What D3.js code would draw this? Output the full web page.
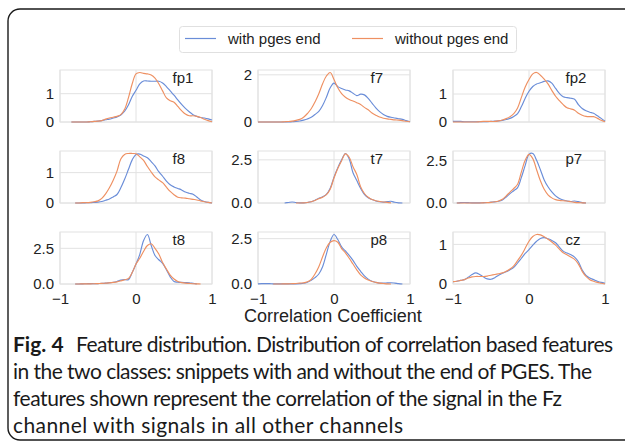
<!DOCTYPE html>
<html>
<head>
<meta charset="utf-8">
<script src="https://cdn.jsdelivr.net/npm/d3@7"></script>
<style>
  html, body { margin: 0; padding: 0; background: #fff; }
  svg { display: block; }
</style>
</head>
<body>
<svg id="chart" width="625" height="442"></svg>
<script>
// ---------------- DATA ----------------
const xGrid = [-1, -0.95, -0.9, -0.85, -0.8, -0.75, -0.7, -0.65, -0.6, -0.55,
  -0.5, -0.45, -0.4, -0.35, -0.3, -0.25, -0.2, -0.15, -0.1, -0.05,
  0, 0.05, 0.1, 0.15, 0.2, 0.25, 0.3, 0.35, 0.4, 0.45,
  0.5, 0.55, 0.6, 0.65, 0.7, 0.75, 0.8, 0.85, 0.9, 0.95, 1];

const channels = ["fp1", "f7", "fp2", "f8", "t7", "p7", "t8", "p8", "cz"];
const seriesNames = ["with pges end", "without pges end"];
const xTicks = [-1, 0, 1];
const yTicks = [[0, 1], [0, 2], [0, 1], [0, 1], [0, 2.5], [0, 2.5], [0, 2.5], [0, 2.5], [0, 1]];
const yTickDecimals = [0, 0, 0, 0, 1, 1, 1, 1, 0];

// density of "with pges end"
const withEnd = {
  fp1: [null, null, null, 0, 0, 0, 0, 0, 0.01, 0.02,
        0.03, 0.05, 0.08, 0.1, 0.14, 0.18, 0.25, 0.38, 0.6, 0.9,
        1.12, 1.35, 1.45, 1.45, 1.44, 1.44, 1.44, 1.38, 1.25, 1.1,
        0.95, 0.78, 0.62, 0.48, 0.36, 0.26, 0.2, 0.16, 0.14, 0.11, 0.07],
  f7:  [0, 0, 0, 0, 0, 0, 0, 0, 0, 0.01,
        0.02, 0.04, 0.08, 0.13, 0.2, 0.32, 0.45, 0.7, 1.05, 1.45,
        1.65, 1.5, 1.42, 1.36, 1.32, 1.22, 1.12, 1.18, 1.15, 1.0,
        0.8, 0.6, 0.44, 0.32, 0.24, 0.2, 0.17, 0.14, 0.11, 0.06, 0.01],
  fp2: [0.02, 0.02, 0.02, 0.01, 0.01, 0.01, 0.01, 0.01, 0.01, 0.01,
        0.02, 0.03, 0.04, 0.06, 0.09, 0.13, 0.2, 0.3, 0.55, 0.85,
        1.1, 1.27, 1.36, 1.4, 1.45, 1.47, 1.39, 1.2, 1.02, 0.9,
        0.87, 0.85, 0.81, 0.62, 0.48, 0.4, 0.35, 0.31, 0.22, 0.13, 0.03],
  f8:  [null, null, null, null, 0, 0, 0, 0.01, 0.01, 0.02,
        0.03, 0.05, 0.09, 0.13, 0.2, 0.28, 0.5, 0.78, 1.1, 1.42,
        1.6, 1.61, 1.55, 1.49, 1.36, 1.22, 1.03, 0.88, 0.72, 0.6,
        0.53, 0.48, 0.43, 0.36, 0.32, 0.29, 0.2, 0.1, 0.05, 0.02, 0],
  t7:  [null, null, null, null, null, null, null, 0, 0.03, 0.06,
        0.03, 0.01, 0.01, 0.03, 0.07, 0.16, 0.27, 0.36, 0.5, 0.85,
        1.5, 2.05, 2.5, 2.87, 2.55, 1.75, 1.3, 0.85, 0.5, 0.3,
        0.2, 0.12, 0.07, 0.05, 0.08, 0.1, 0.04, 0.01, 0, null, null],
  p7:  [null, 0, 0.02, 0.03, 0.02, 0.01, 0.01, 0.01, 0.02, 0.03,
        0.05, 0.07, 0.1, 0.18, 0.35, 0.55, 0.72, 0.9, 1.5, 2.2,
        2.85, 2.9, 2.5, 1.95, 1.35, 0.95, 0.65, 0.42, 0.27, 0.18,
        0.12, 0.09, 0.12, 0.08, 0.02, 0, null, null, null, null, null],
  t8:  [null, null, null, null, 0, 0, 0.01, 0.02, 0.03, 0.02,
        0.03, 0.04, 0.06, 0.09, 0.12, 0.18, 0.27, 0.31, 0.3, 0.8,
        1.4, 2.08, 3.05, 3.47, 2.7, 2.0, 1.7, 1.45, 1.0, 0.5,
        0.18, 0.13, 0.11, 0.1, 0.09, 0.05, 0.01, null, null, null, null],
  p8:  [0.01, 0.02, 0.02, 0.02, 0.01, 0.01, 0.01, 0.01, 0.01, 0.01,
        0.01, 0.02, 0.04, 0.1, 0.2, 0.35, 0.55, 0.95, 1.65, 2.35,
        2.73, 2.45, 2.05, 1.82, 1.58, 1.3, 0.97, 0.7, 0.45, 0.27,
        0.15, 0.09, 0.05, 0.05, 0.06, 0.07, 0.05, 0.02, 0, null, null],
  cz:  [0.06, 0.07, 0.09, 0.11, 0.17, 0.24, 0.28, 0.24, 0.18, 0.13,
        0.12, 0.16, 0.22, 0.27, 0.31, 0.36, 0.42, 0.53, 0.65, 0.77,
        0.87, 0.98, 1.08, 1.15, 1.17, 1.14, 1.1, 1.04, 0.93, 0.83,
        0.78, 0.74, 0.68, 0.56, 0.35, 0.22, 0.15, 0.11, 0.07, 0.04, 0.02]
};

// density of "without pges end"
const withoutEnd = {
  fp1: [null, null, null, 0, 0, 0, 0, 0, 0.01, 0.02,
        0.03, 0.05, 0.1, 0.14, 0.17, 0.2, 0.26, 0.45, 0.85, 1.35,
        1.7, 1.75, 1.72, 1.7, 1.66, 1.55, 1.35, 1.1, 0.85, 0.75,
        0.7, 0.55, 0.4, 0.28, 0.22, 0.22, 0.2, 0.16, 0.1, 0.05, 0.01],
  f7:  [0, 0, 0, 0, 0, 0, 0, 0.01, 0.02, 0.04,
        0.07, 0.11, 0.2, 0.36, 0.56, 0.85, 1.2, 1.62, 1.95, 2.1,
        1.8, 1.45, 1.2, 1.05, 0.95, 0.89, 0.82, 0.74, 0.62, 0.52,
        0.38, 0.29, 0.21, 0.16, 0.13, 0.11, 0.09, 0.08, 0.06, 0.03, 0.01],
  fp2: [0, 0, 0, 0, 0, 0, 0, 0.01, 0.02, 0.02,
        0.02, 0.02, 0.04, 0.07, 0.12, 0.19, 0.3, 0.5, 0.88, 1.25,
        1.52, 1.72, 1.77, 1.67, 1.53, 1.36, 1.13, 0.92, 0.76, 0.62,
        0.51, 0.47, 0.42, 0.31, 0.24, 0.2, 0.19, 0.19, 0.13, 0.06, 0.01],
  f8:  [null, null, null, null, 0, 0, 0.01, 0.01, 0.02, 0.04,
        0.07, 0.15, 0.3, 0.5, 0.75, 1.05, 1.45, 1.6, 1.63, 1.63,
        1.62, 1.52, 1.4, 1.2, 1.02, 0.86, 0.76, 0.67, 0.52, 0.38,
        0.27, 0.19, 0.17, 0.16, 0.14, 0.12, 0.1, 0.07, 0.04, 0.02, 0],
  t7:  [null, null, null, null, null, null, null, null, null, null,
        0, 0, 0.01, 0.03, 0.07, 0.15, 0.25, 0.33, 0.48, 0.8,
        1.45, 2.0, 2.45, 2.85, 2.65, 2.1, 1.65, 0.95, 0.55, 0.33,
        0.2, 0.13, 0.09, 0.06, 0.04, 0.01, null, null, null, null, null],
  p7:  [null, 0, 0, 0, 0, 0, 0, 0, 0.01, 0.02,
        0.04, 0.07, 0.12, 0.22, 0.42, 0.64, 0.85, 1.1, 1.82, 2.5,
        2.85, 2.6, 1.95, 1.3, 0.8, 0.48, 0.3, 0.2, 0.15, 0.13,
        0.12, 0.07, 0.04, 0.02, 0.01, 0, null, null, null, null, null],
  t8:  [null, null, null, null, 0, 0, 0.01, 0.01, 0.01, 0.02,
        0.03, 0.04, 0.06, 0.08, 0.11, 0.15, 0.22, 0.3, 0.38, 0.8,
        1.4, 1.8, 2.3, 2.7, 2.82, 2.5, 2.1, 1.5, 1.05, 0.62,
        0.35, 0.18, 0.1, 0.06, 0.04, 0.02, 0.01, 0, null, null, null],
  p8:  [null, null, null, null, 0, 0, 0, 0.01, 0.01, 0.02,
        0.03, 0.05, 0.06, 0.12, 0.25, 0.55, 0.95, 1.5, 2.0, 2.3,
        2.39, 2.3, 1.95, 1.72, 1.42, 1.1, 0.78, 0.5, 0.33, 0.22,
        0.14, 0.09, 0.05, 0.03, 0.01, 0, null, null, null, null, null],
  cz:  [0.06, 0.07, 0.09, 0.11, 0.15, 0.18, 0.19, 0.19, 0.19, 0.2,
        0.22, 0.24, 0.26, 0.28, 0.32, 0.38, 0.46, 0.59, 0.73, 0.9,
        1.08, 1.2, 1.25, 1.24, 1.19, 1.13, 1.06, 0.98, 0.88, 0.79,
        0.74, 0.68, 0.62, 0.5, 0.32, 0.19, 0.11, 0.07, 0.04, 0.02, 0]
};

const axisTitle = "Correlation Coefficient";
const captionBold = "Fig. 4";
const captionLines = [
  "Feature distribution. Distribution of correlation based features",
  "in the two classes: snippets with and without the end of PGES. The",
  "features shown represent the correlation of the signal in the Fz",
  "channel with signals in all other channels"
];

// ---------------- LAYOUT / STYLE ----------------
const colors = ["#6a8dd8", "#ee9062"];
const colLeft = [60, 258, 453];
const rowTop = [70, 151, 232];
const panelW = 152, panelH = 52;
const gridColor = "#e2e2e2";
const tickFont = "Liberation Sans, Arial, Helvetica, sans-serif";

const svg = d3.select("#chart");
svg.append("rect").attr("width", 625).attr("height", 442).attr("fill", "#fff");

// outer rounded frame (right side runs off the page)
svg.append("rect")
  .attr("x", 8).attr("y", 9).attr("width", 700).attr("height", 431)
  .attr("rx", 12).attr("ry", 12)
  .attr("fill", "none").attr("stroke", "#1a1a1a").attr("stroke-width", 1.4);

channels.forEach((ch, i) => {
  const c = i % 3, r = Math.floor(i / 3);
  const x0 = colLeft[c], y0 = rowTop[r];
  const g = svg.append("g").attr("transform", `translate(${x0},${y0})`);

  const x = d3.scaleLinear().domain([-1, 1]).range([0, panelW]);
  const ymax = d3.max([...withEnd[ch], ...withoutEnd[ch]].filter(v => v != null)) * 1.05;
  const y = d3.scaleLinear().domain([0, ymax]).range([panelH, 0]);

  // grid
  g.selectAll("line.vg").data(xTicks).enter().append("line")
    .attr("x1", d => x(d)).attr("x2", d => x(d))
    .attr("y1", 0).attr("y2", panelH)
    .attr("stroke", gridColor).attr("stroke-width", 1);
  g.selectAll("line.hg").data(yTicks[i]).enter().append("line")
    .attr("x1", 0).attr("x2", panelW)
    .attr("y1", d => y(d)).attr("y2", d => y(d))
    .attr("stroke", gridColor).attr("stroke-width", 1);
  g.append("rect").attr("x", 0).attr("y", 0).attr("width", panelW).attr("height", panelH)
    .attr("fill", "none").attr("stroke", gridColor).attr("stroke-width", 1);

  // y axis
  const ya = g.append("g").call(
    d3.axisLeft(y).tickValues(yTicks[i]).tickSize(0).tickPadding(6)
      .tickFormat(d3.format("." + yTickDecimals[i] + "f")));
  ya.select(".domain").remove();
  ya.selectAll("text").attr("font-size", 15).attr("font-family", tickFont).attr("fill", "#222");

  // x axis on bottom row only
  if (r === 2) {
    const xa = g.append("g").attr("transform", `translate(0,${panelH})`).call(
      d3.axisBottom(x).tickValues(xTicks).tickSize(0).tickPadding(9).tickFormat(d3.format("d")));
    xa.select(".domain").remove();
    xa.selectAll("text").attr("font-size", 15).attr("font-family", tickFont).attr("fill", "#222");
  }

  // density lines
  const line = d3.line()
    .defined(d => d[1] != null)
    .x(d => x(d[0])).y(d => y(d[1]))
    .curve(d3.curveCatmullRom.alpha(0.5));
  [withEnd[ch], withoutEnd[ch]].forEach((vals, k) => {
    g.append("path")
      .datum(xGrid.map((xv, j) => [xv, vals[j]]))
      .attr("d", line)
      .attr("fill", "none")
      .attr("stroke", colors[k])
      .attr("stroke-width", 1.15);
  });

  // channel label
  g.append("text")
    .attr("x", panelW * 0.74).attr("y", 13)
    .attr("font-size", 15).attr("font-family", tickFont).attr("fill", "#222")
    .text(ch);
});

// legend
const lg = svg.append("g");
lg.append("rect").attr("x", 179.5).attr("y", 26.5).attr("width", 337).attr("height", 26)
  .attr("rx", 3).attr("fill", "#fff").attr("stroke", "#e0e0e0");
const legendX = [[185, 228], [352, 395]];
seriesNames.forEach((name, k) => {
  lg.append("line").attr("x1", legendX[k][0]).attr("x2", legendX[k][0] + 31)
    .attr("y1", 38.5).attr("y2", 38.5).attr("stroke", colors[k]).attr("stroke-width", 1.2);
  lg.append("text").attr("x", legendX[k][1]).attr("y", 44)
    .attr("font-size", 15).attr("font-family", tickFont).attr("fill", "#222").text(name);
});

// axis title
svg.append("text").attr("x", 333).attr("y", 322).attr("text-anchor", "middle")
  .attr("font-size", 18).attr("font-family", tickFont).attr("fill", "#222")
  .text(axisTitle);

// caption
const capFont = "Lato, 'Noto Sans', sans-serif";
const capX = 13;
const capY = [352, 379, 406, 433];
const capEnd = [613, 592, 562, 403];
svg.append("text").attr("x", capX).attr("y", capY[0])
  .attr("font-size", 21).attr("font-weight", "bold").attr("font-family", capFont)
  .attr("fill", "#1a1a1a").text(captionBold);
captionLines.forEach((t, i) => {
  const xs = i === 0 ? 76 : capX;
  svg.append("text").attr("x", xs).attr("y", capY[i])
    .attr("font-size", 21).attr("font-family", capFont).attr("fill", "#1a1a1a")
    .attr("textLength", capEnd[i] - xs)
    .text(t);
});
</script>
</body>
</html>
